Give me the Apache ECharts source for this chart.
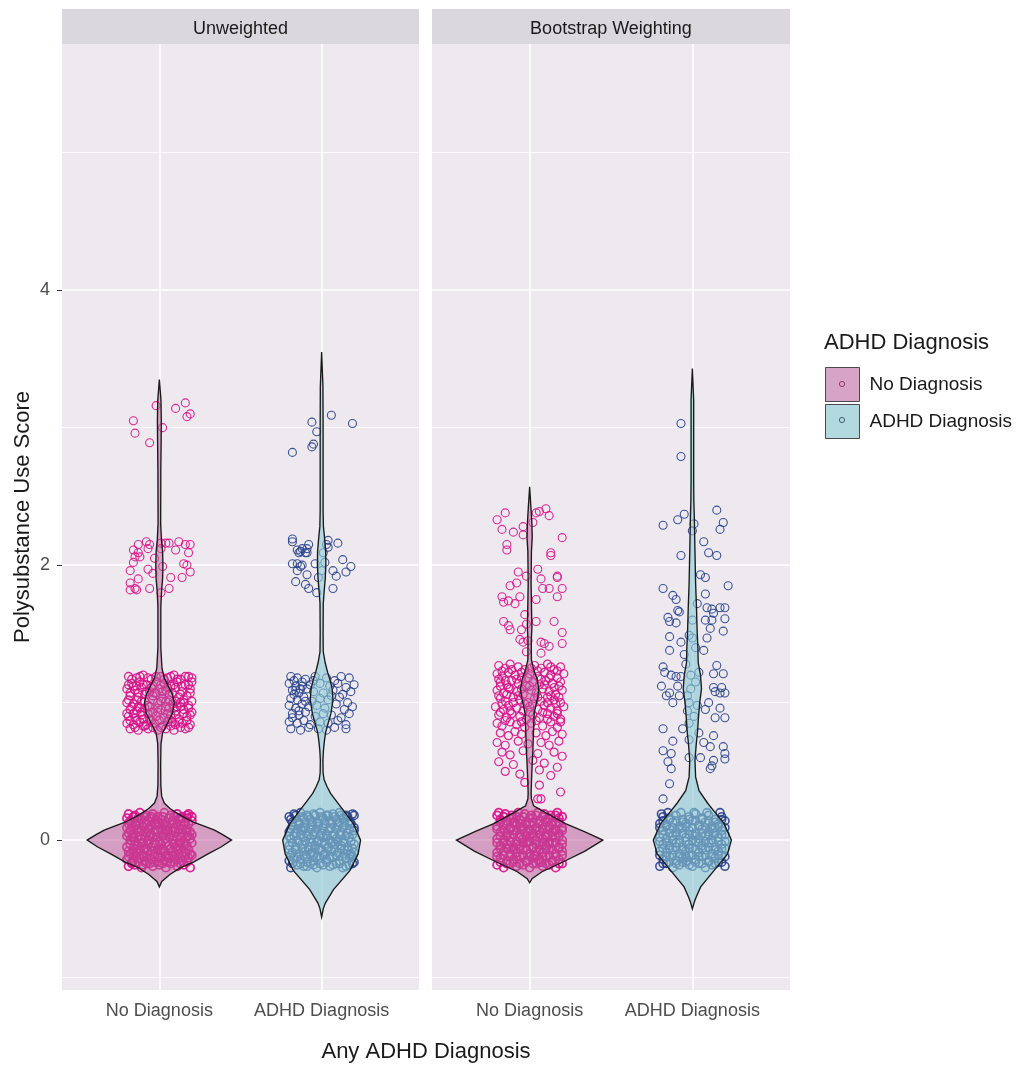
<!DOCTYPE html>
<html><head><meta charset="utf-8">
<script src="https://cdn.jsdelivr.net/npm/echarts@6/dist/echarts.min.js"></script>
<style>html,body{margin:0;padding:0;background:#fff}#c{width:1019px;height:1065px}</style>
</head><body><div id="c"></div>
<script>
const CATS = ['No Diagnosis', 'ADHD Diagnosis'];
const PANELS = ['Unweighted', 'Bootstrap Weighting'];
const Y_MAJOR = [0, 2, 4];
const Y_MINOR = [-1, 1, 3, 5];
const X_POS = [1, 2];

// ---------- Unweighted, No Diagnosis points ----------
const uwNoHi = [[0.98,3.16],[1.10,3.14],[1.16,3.18],[1.17,3.08],[1.19,3.10],[0.84,3.05],[1.02,3.00],[0.85,2.96],[0.94,2.89]];
const uwNoTwo = [[0.92,2.17],[0.87,2.15],[0.94,2.15],[1.01,2.16],[1.04,2.16],[1.06,2.16],[1.12,2.17],[1.16,2.15],[1.19,2.15],[0.84,2.11],[0.87,2.09],[0.93,2.12],[1.01,2.12],[1.10,2.11],[1.18,2.09],[0.85,2.06],[0.88,2.06],[0.97,2.05],[0.84,2.02],[1.15,2.01],[1.17,2.00],[1.02,1.99],[0.82,1.96],[0.93,1.97],[1.07,1.91],[1.14,1.91],[1.19,1.95],[0.87,1.90],[0.96,1.94],[0.82,1.87],[0.82,1.82],[0.86,1.82],[0.94,1.83],[1.01,1.80],[1.06,1.83],[0.85,1.83]];
const uwNoOne = [[0.81,1.19],[0.86,1.18],[0.90,1.20],[0.95,1.17],[1.01,1.19],[1.05,1.18],[1.09,1.20],[1.13,1.17],[1.18,1.19],
[0.83,1.14],[0.88,1.15],[0.92,1.13],[0.98,1.15],[1.03,1.14],[1.07,1.12],[1.11,1.15],[1.16,1.13],[1.20,1.15],
[0.80,1.10],[0.85,1.09],[0.89,1.11],[0.94,1.08],[1.00,1.10],[1.04,1.09],[1.10,1.11],[1.14,1.08],[1.19,1.10],
[0.82,1.05],[0.87,1.04],[0.91,1.06],[0.96,1.05],[1.02,1.03],[1.06,1.06],[1.12,1.04],[1.17,1.05],
[0.80,1.00],[0.84,0.99],[0.89,1.01],[0.93,0.98],[0.99,1.00],[1.04,1.01],[1.08,0.99],[1.13,1.00],[1.18,0.98],
[0.82,0.95],[0.86,0.94],[0.91,0.96],[0.96,0.93],[1.01,0.95],[1.06,0.96],[1.10,0.94],[1.15,0.95],[1.20,0.93],
[0.81,0.90],[0.85,0.89],[0.89,0.91],[0.94,0.88],[0.98,0.90],[1.03,0.89],[1.07,0.91],[1.12,0.88],[1.17,0.90],
[0.80,0.85],[0.84,0.84],[0.88,0.86],[0.92,0.84],[0.97,0.85],[1.02,0.83],[1.05,0.86],[1.10,0.84],[1.14,0.85],[1.19,0.84],
[0.82,0.81],[0.87,0.80],[0.93,0.81],[0.99,0.80],[1.04,0.81],[1.09,0.80],[1.16,0.81],
[0.84,1.12],[0.97,1.07],[1.15,1.02],[0.87,0.97],[1.08,0.86],[0.95,1.11],[1.11,0.97],[0.90,0.83]];
const uwNoOneB = [[0.83,1.17],[0.88,1.19],[0.93,1.18],[0.98,1.19],[1.03,1.17],[1.07,1.19],[1.11,1.17],[1.16,1.19],[1.20,1.18],
[0.81,1.13],[0.86,1.12],[0.90,1.13],[0.96,1.12],[1.01,1.13],[1.05,1.11],[1.09,1.13],[1.14,1.12],[1.18,1.13],
[0.82,1.07],[0.87,1.07],[0.92,1.08],[0.98,1.07],[1.02,1.08],[1.08,1.07],[1.13,1.06],[1.19,1.07],
[0.81,1.02],[0.86,1.02],[0.91,1.01],[0.96,1.02],[1.01,1.01],[1.06,1.02],[1.10,1.01],[1.15,1.00],[1.20,1.01],
[0.83,0.97],[0.88,0.96],[0.94,0.97],[0.99,0.96],[1.04,0.97],[1.09,0.96],[1.13,0.97],[1.18,0.96],
[0.80,0.92],[0.84,0.92],[0.89,0.93],[0.93,0.92],[0.99,0.93],[1.05,0.92],[1.10,0.91],[1.15,0.92],[1.19,0.91],
[0.82,0.87],[0.86,0.87],[0.90,0.88],[0.95,0.87],[1.00,0.87],[1.06,0.88],[1.12,0.86],[1.17,0.87],
[0.85,0.82],[0.91,0.83],[0.96,0.82],[1.01,0.82],[1.07,0.83],[1.13,0.82],[1.18,0.82]];
const uwNoZero = [[0.81,-0.19],[0.85,-0.18],[0.89,-0.20],[0.92,-0.17],[0.96,-0.19],[1.00,-0.18],[1.04,-0.20],[1.07,-0.17],[1.11,-0.19],[1.15,-0.18],[1.19,-0.20],
[0.80,-0.14],[0.84,-0.15],[0.88,-0.13],[0.91,-0.15],[0.95,-0.14],[0.99,-0.12],[1.03,-0.15],[1.06,-0.13],[1.10,-0.14],[1.14,-0.15],[1.18,-0.13],
[0.82,-0.10],[0.86,-0.09],[0.89,-0.11],[0.93,-0.08],[0.97,-0.10],[1.01,-0.09],[1.05,-0.11],[1.08,-0.08],[1.12,-0.10],[1.16,-0.09],[1.20,-0.11],
[0.80,-0.05],[0.84,-0.06],[0.87,-0.04],[0.91,-0.06],[0.95,-0.05],[0.98,-0.03],[1.02,-0.06],[1.06,-0.04],[1.10,-0.05],[1.13,-0.06],[1.17,-0.04],
[0.82,0.00],[0.85,-0.01],[0.89,0.01],[0.93,0.00],[0.96,0.02],[1.00,-0.01],[1.04,0.01],[1.08,0.00],[1.11,0.02],[1.15,-0.01],[1.19,0.01],
[0.81,0.05],[0.84,0.04],[0.88,0.06],[0.92,0.05],[0.95,0.04],[0.99,0.06],[1.03,0.05],[1.07,0.04],[1.10,0.06],[1.14,0.05],[1.18,0.03],
[0.80,0.09],[0.83,0.10],[0.87,0.08],[0.90,0.10],[0.94,0.09],[0.98,0.11],[1.02,0.08],[1.05,0.10],[1.09,0.09],[1.13,0.11],[1.17,0.08],
[0.82,0.14],[0.86,0.13],[0.89,0.15],[0.93,0.14],[0.97,0.12],[1.01,0.15],[1.04,0.13],[1.08,0.14],[1.12,0.15],[1.16,0.13],[1.20,0.14],
[0.81,0.19],[0.85,0.18],[0.88,0.20],[0.92,0.18],[0.96,0.19],[0.99,0.17],[1.03,0.20],[1.07,0.18],[1.11,0.19],[1.14,0.17],[1.18,0.19],
[0.83,-0.16],[0.97,-0.16],[1.09,-0.12],[0.90,-0.02],[1.05,0.07],[0.94,0.16],[1.12,-0.02],[0.86,0.11],[1.01,-0.07],[1.17,0.16],[0.83,0.02],[1.00,0.12],[0.92,-0.12],[1.14,0.08],[0.87,-0.08]];
const uwNoZeroB = [[0.83,-0.17],[0.87,-0.16],[0.94,-0.17],[0.99,-0.16],[1.02,-0.17],[1.05,-0.16],[1.13,-0.17],[1.17,-0.16],[0.90,-0.18],[1.09,-0.16],
[0.81,-0.12],[0.86,-0.12],[0.90,-0.11],[0.97,-0.12],[1.00,-0.13],[1.04,-0.12],[1.08,-0.11],[1.12,-0.13],[1.16,-0.12],[1.19,-0.10],
[0.81,-0.08],[0.84,-0.09],[0.88,-0.07],[0.92,-0.06],[0.95,-0.08],[0.99,-0.07],[1.03,-0.08],[1.07,-0.06],[1.11,-0.07],[1.14,-0.09],[1.18,-0.07],
[0.82,-0.03],[0.86,-0.04],[0.89,-0.02],[0.93,-0.03],[0.97,-0.02],[1.01,-0.03],[1.04,-0.02],[1.09,-0.03],[1.13,-0.02],[1.16,-0.03],[1.20,-0.02],
[0.80,0.03],[0.84,0.02],[0.87,0.03],[0.91,0.02],[0.94,0.03],[0.98,0.02],[1.02,0.03],[1.06,0.02],[1.09,0.03],[1.13,0.02],[1.17,0.03],[1.20,0.04],
[0.82,0.07],[0.86,0.08],[0.89,0.07],[0.93,0.08],[0.97,0.07],[1.01,0.07],[1.04,0.08],[1.08,0.07],[1.12,0.08],[1.16,0.07],[1.19,0.06],
[0.81,0.12],[0.85,0.11],[0.88,0.12],[0.92,0.12],[0.95,0.11],[0.99,0.13],[1.03,0.11],[1.07,0.12],[1.11,0.12],[1.15,0.11],[1.18,0.12],
[0.80,0.16],[0.84,0.17],[0.87,0.16],[0.91,0.17],[0.95,0.17],[0.98,0.15],[1.02,0.17],[1.06,0.16],[1.09,0.17],[1.13,0.16],[1.17,0.18],[1.20,0.17]];

// ---------- Unweighted, ADHD Diagnosis points ----------
const uwAdHi = [[2.06,3.09],[1.94,3.04],[2.19,3.03],[1.97,2.97],[1.95,2.88],[1.94,2.86],[1.82,2.82]];
const uwAdTwo = [[1.82,2.19],[1.82,2.17],[1.87,2.10],[1.85,2.11],[1.88,2.12],[1.91,2.12],[1.92,2.15],[1.90,2.09],[1.86,2.09],[1.91,2.09],[2.04,2.18],[2.10,2.16],[2.03,2.15],[2.04,2.13],[1.82,2.01],[1.85,2.01],[1.87,1.99],[1.88,2.00],[1.96,2.01],[2.13,2.04],[2.18,1.99],[2.07,1.96],[2.15,1.95],[2.09,1.92],[1.85,1.96],[1.91,1.93],[1.84,1.88],[1.90,1.86],[1.92,1.83],[1.97,1.80],[1.98,1.91],[2.07,1.83],[2.01,2.09],[2.02,2.02],[2.00,1.96]];
const uwAdOne = [[1.81,1.19],[1.85,1.18],[1.90,1.17],[1.96,1.19],[2.03,1.18],[2.08,1.16],[2.12,1.19],[2.17,1.18],
[1.80,1.14],[1.84,1.12],[1.88,1.15],[1.93,1.13],[1.99,1.14],[2.05,1.12],[2.10,1.14],[2.15,1.11],[2.20,1.13],
[1.82,1.09],[1.86,1.07],[1.91,1.10],[1.95,1.08],[2.01,1.07],[2.07,1.09],[2.13,1.06],[2.18,1.08],
[1.81,1.03],[1.85,1.02],[1.89,1.04],[1.94,1.01],[1.99,1.03],[2.04,1.02],[2.11,1.04],[2.16,1.00],
[1.80,0.98],[1.84,0.96],[1.88,0.99],[1.92,0.97],[1.97,0.98],[2.02,0.96],[2.09,0.99],[2.14,0.95],[2.19,0.97],
[1.82,0.92],[1.86,0.91],[1.90,0.93],[1.96,0.90],[2.01,0.92],[2.06,0.91],[2.12,0.89],[2.17,0.92],
[1.80,0.86],[1.85,0.85],[1.89,0.87],[1.93,0.84],[1.99,0.86],[2.04,0.85],[2.10,0.87],[2.15,0.84],
[1.81,0.81],[1.87,0.80],[1.92,0.82],[1.98,0.81],[2.03,0.80],[2.08,0.82],[2.15,0.81],
[1.83,1.16],[1.87,1.10],[1.83,1.06],[1.90,1.01],[1.86,0.94],[1.84,1.09],[1.88,1.12],[1.82,0.89],[1.95,1.16],[2.06,1.05]];
const uwAdZero = [[1.81,-0.20],[1.85,-0.18],[1.89,-0.19],[1.93,-0.17],[1.97,-0.20],[2.01,-0.18],[2.05,-0.19],[2.09,-0.17],[2.13,-0.20],[2.17,-0.18],[2.20,-0.16],
[1.80,-0.15],[1.83,-0.13],[1.87,-0.14],[1.91,-0.12],[1.95,-0.15],[1.99,-0.13],[2.03,-0.14],[2.07,-0.12],[2.11,-0.15],[2.15,-0.13],[2.19,-0.12],
[1.82,-0.09],[1.86,-0.10],[1.90,-0.08],[1.94,-0.09],[1.98,-0.07],[2.02,-0.10],[2.06,-0.08],[2.10,-0.09],[2.14,-0.07],[2.18,-0.10],
[1.80,-0.04],[1.84,-0.05],[1.88,-0.03],[1.92,-0.05],[1.96,-0.04],[2.00,-0.02],[2.04,-0.05],[2.08,-0.03],[2.12,-0.04],[2.16,-0.05],[2.20,-0.03],
[1.81,0.01],[1.85,0.00],[1.89,0.02],[1.93,0.01],[1.97,-0.01],[2.01,0.02],[2.05,0.00],[2.09,0.01],[2.13,-0.01],[2.17,0.02],
[1.80,0.06],[1.84,0.05],[1.88,0.07],[1.92,0.04],[1.96,0.06],[2.00,0.05],[2.04,0.07],[2.08,0.04],[2.12,0.06],[2.16,0.05],[2.20,0.07],
[1.82,0.10],[1.86,0.11],[1.90,0.09],[1.94,0.11],[1.98,0.10],[2.02,0.12],[2.06,0.09],[2.10,0.11],[2.14,0.10],[2.18,0.12],
[1.81,0.15],[1.85,0.14],[1.89,0.16],[1.93,0.15],[1.97,0.13],[2.01,0.16],[2.05,0.14],[2.09,0.15],[2.13,0.16],[2.17,0.14],
[1.83,0.19],[1.87,0.20],[1.91,0.18],[1.95,0.19],[1.99,0.20],[2.03,0.18],[2.07,0.19],[2.11,0.20],[2.15,0.18],[2.19,0.19],
[1.95,-0.11],[2.07,-0.01],[1.87,0.08],[2.03,0.03],[1.99,-0.06],[2.11,0.13],[1.91,-0.16],[2.15,-0.10]];
const uwAdZeroB = [[1.82,-0.17],[1.87,-0.17],[1.91,-0.19],[1.95,-0.18],[1.99,-0.17],[2.03,-0.16],[2.07,-0.18],[2.11,-0.17],[2.15,-0.19],[2.19,-0.17],
[1.81,-0.11],[1.85,-0.12],[1.89,-0.11],[1.93,-0.10],[1.97,-0.12],[2.01,-0.11],[2.05,-0.12],[2.09,-0.11],[2.13,-0.12],[2.17,-0.11],[2.20,-0.09],
[1.80,-0.07],[1.84,-0.07],[1.88,-0.06],[1.92,-0.07],[1.96,-0.06],[2.00,-0.07],[2.04,-0.06],[2.08,-0.07],[2.12,-0.06],[2.16,-0.07],[2.19,-0.06],
[1.82,-0.02],[1.86,-0.02],[1.90,-0.01],[1.94,-0.02],[1.98,-0.01],[2.02,-0.03],[2.06,-0.02],[2.10,-0.01],[2.14,-0.02],[2.18,-0.01],
[1.80,0.03],[1.83,0.03],[1.87,0.04],[1.91,0.03],[1.95,0.04],[1.99,0.03],[2.03,0.04],[2.07,0.03],[2.11,0.04],[2.15,0.03],[2.19,0.04],
[1.81,0.08],[1.85,0.08],[1.89,0.09],[1.93,0.08],[1.97,0.08],[2.01,0.09],[2.05,0.08],[2.09,0.08],[2.13,0.09],[2.17,0.08],[2.20,0.09],
[1.82,0.13],[1.86,0.12],[1.90,0.13],[1.94,0.13],[1.98,0.12],[2.02,0.14],[2.06,0.12],[2.10,0.13],[2.14,0.13],[2.18,0.12],
[1.80,0.17],[1.84,0.18],[1.88,0.17],[1.92,0.17],[1.96,0.18],[2.00,0.17],[2.04,0.18],[2.08,0.17],[2.12,0.18],[2.16,0.17],[2.20,0.18]];

// ---------- Bootstrap, No Diagnosis points ----------
const bsNoHi = [[0.80,2.33],[0.85,2.38],[1.04,2.38],[1.06,2.39],[1.10,2.41],[1.12,2.36],[0.83,2.26],[0.90,2.24],[0.96,2.22],[0.96,2.28],[1.02,2.31],[1.20,2.20],[0.86,2.15],[0.86,2.11],[1.13,2.09],[1.13,2.07],[0.93,1.95],[0.98,1.92],[1.05,1.97],[1.07,1.90],[1.17,1.92],[1.17,1.91],[0.92,1.87],[0.88,1.85],[0.83,1.77],[0.84,1.73],[0.87,1.74],[0.91,1.72],[0.94,1.77],[1.04,1.75],[1.08,1.83],[1.12,1.83],[1.20,1.83],[1.17,1.77],[0.97,1.64],[0.84,1.59],[0.87,1.56],[0.88,1.53],[0.95,1.53],[0.98,1.57],[1.04,1.59],[1.15,1.59],[1.20,1.51],[1.20,1.43],[0.94,1.46],[0.96,1.44],[0.99,1.45],[1.07,1.44],[1.09,1.43],[1.12,1.41],[0.98,1.37],[1.07,1.36]];
const bsNoMid = [[0.81,1.27],[0.85,1.25],[0.88,1.28],[0.93,1.26],[0.97,1.24],[1.03,1.27],[1.07,1.25],[1.11,1.28],[1.15,1.24],[1.19,1.26],
[0.80,1.21],[0.83,1.19],[0.87,1.22],[0.91,1.20],[0.95,1.18],[1.00,1.21],[1.05,1.19],[1.09,1.22],[1.13,1.20],[1.17,1.18],[1.21,1.21],
[0.82,1.15],[0.86,1.13],[0.89,1.16],[0.93,1.14],[0.98,1.12],[1.02,1.15],[1.06,1.13],[1.10,1.16],[1.14,1.14],[1.18,1.12],
[0.80,1.09],[0.84,1.07],[0.88,1.10],[0.92,1.08],[0.96,1.06],[1.01,1.09],[1.04,1.07],[1.08,1.10],[1.12,1.08],[1.16,1.06],[1.20,1.09],
[0.82,1.03],[0.85,1.01],[0.90,1.04],[0.94,1.02],[0.99,1.00],[1.03,1.03],[1.07,1.01],[1.11,1.04],[1.15,1.02],[1.19,1.00],
[0.79,0.97],[0.84,0.95],[0.87,0.98],[0.92,0.96],[0.96,0.94],[1.00,0.97],[1.05,0.95],[1.09,0.98],[1.13,0.96],[1.17,0.94],[1.21,0.97],
[0.81,0.91],[0.86,0.89],[0.89,0.92],[0.94,0.90],[0.98,0.88],[1.02,0.91],[1.06,0.89],[1.11,0.92],[1.15,0.90],[1.19,0.88],
[0.80,0.85],[0.83,0.83],[0.88,0.86],[0.92,0.84],[0.97,0.82],[1.01,0.85],[1.08,0.83],[1.13,0.86],[1.17,0.82],
[0.82,0.78],[0.87,0.76],[0.91,0.79],[0.95,0.77],[1.04,0.78],[1.10,0.76],[1.14,0.79],[1.20,0.77],
[0.80,0.71],[0.85,0.69],[0.93,0.72],[0.99,0.70],[1.07,0.71],[1.12,0.69],[1.18,0.72],
[0.83,0.64],[0.88,0.62],[0.96,0.65],[1.05,0.63],[1.15,0.64],[1.20,0.61],
[0.81,0.57],[0.90,0.55],[1.02,0.58],[1.09,0.56],[1.17,0.53],
[0.85,0.50],[0.94,0.48],[1.06,0.51],[1.13,0.47],
[0.97,0.42],[1.06,0.40],[1.19,0.35],[1.05,0.30],[1.07,0.30],
[0.83,1.23],[0.89,1.24],[0.95,1.22],[1.01,1.25],[1.05,1.23],[1.13,1.26],[1.17,1.23],[0.81,1.17],[0.85,1.16],[0.92,1.17],[0.99,1.18],[1.07,1.17],[1.12,1.18],[1.19,1.15],[0.82,1.12],[0.87,1.11],[0.95,1.10],[1.00,1.12],[1.09,1.13],[1.15,1.11],[0.81,1.05],[0.86,1.06],[0.93,1.05],[1.05,1.04],[1.13,1.05],[1.18,1.04],[0.83,0.99],[0.90,1.00],[0.97,0.99],[1.02,0.99],[1.11,1.00],[1.16,0.99],[0.82,0.93],[0.88,0.94],[1.00,0.93],[1.08,0.93],[1.17,0.92],[0.85,0.87],[0.95,0.86],[1.04,0.87],[1.11,0.88],[1.19,0.86]];
const bsNoZero = [[0.80,-0.18],[0.84,-0.20],[0.88,-0.17],[0.92,-0.19],[0.96,-0.18],[1.00,-0.20],[1.04,-0.17],[1.08,-0.19],[1.12,-0.18],[1.16,-0.20],[1.20,-0.17],
[0.82,-0.13],[0.86,-0.15],[0.90,-0.14],[0.94,-0.12],[0.98,-0.15],[1.02,-0.13],[1.06,-0.14],[1.10,-0.12],[1.14,-0.15],[1.18,-0.14],
[0.80,-0.09],[0.84,-0.08],[0.88,-0.10],[0.92,-0.09],[0.96,-0.07],[1.00,-0.10],[1.04,-0.08],[1.08,-0.09],[1.12,-0.07],[1.16,-0.10],[1.20,-0.08],
[0.82,-0.04],[0.86,-0.03],[0.90,-0.05],[0.94,-0.04],[0.98,-0.02],[1.02,-0.05],[1.06,-0.03],[1.10,-0.04],[1.14,-0.02],[1.18,-0.05],
[0.80,0.01],[0.84,0.00],[0.88,0.02],[0.92,-0.01],[0.96,0.01],[1.00,0.02],[1.04,0.00],[1.08,0.01],[1.12,-0.01],[1.16,0.02],[1.20,0.00],
[0.82,0.06],[0.86,0.05],[0.90,0.07],[0.94,0.04],[0.98,0.06],[1.02,0.05],[1.06,0.07],[1.10,0.04],[1.14,0.06],[1.18,0.05],
[0.80,0.10],[0.84,0.11],[0.88,0.09],[0.92,0.11],[0.96,0.10],[1.00,0.12],[1.04,0.09],[1.08,0.11],[1.12,0.10],[1.16,0.12],[1.20,0.09],
[0.82,0.15],[0.86,0.14],[0.90,0.16],[0.94,0.15],[0.98,0.13],[1.02,0.16],[1.06,0.14],[1.10,0.15],[1.14,0.13],[1.18,0.16],
[0.81,0.20],[0.85,0.19],[0.89,0.18],[0.93,0.20],[0.97,0.19],[1.01,0.18],[1.05,0.20],[1.09,0.19],[1.13,0.18],[1.17,0.20],
[0.87,-0.06],[1.03,-0.11],[0.95,0.08],[1.11,0.03],[0.91,0.13],[1.07,-0.16],[0.99,-0.01],[1.15,0.08]];
const bsNoZeroB = [[0.82,-0.16],[0.86,-0.17],[0.90,-0.16],[0.94,-0.17],[0.98,-0.16],[1.02,-0.17],[1.06,-0.16],[1.10,-0.17],[1.14,-0.16],[1.18,-0.17],
[0.80,-0.12],[0.84,-0.11],[0.88,-0.12],[0.92,-0.12],[0.96,-0.11],[1.00,-0.12],[1.04,-0.11],[1.08,-0.12],[1.12,-0.11],[1.16,-0.12],[1.20,-0.11],
[0.82,-0.06],[0.86,-0.06],[0.90,-0.07],[0.94,-0.06],[0.98,-0.07],[1.02,-0.06],[1.06,-0.07],[1.10,-0.06],[1.14,-0.07],[1.18,-0.06],
[0.80,-0.02],[0.84,-0.02],[0.88,-0.01],[0.92,-0.03],[0.96,-0.02],[1.00,-0.01],[1.04,-0.03],[1.08,-0.02],[1.12,-0.03],[1.16,-0.02],[1.20,-0.03],
[0.82,0.03],[0.86,0.03],[0.90,0.04],[0.94,0.02],[0.98,0.03],[1.02,0.03],[1.06,0.04],[1.10,0.02],[1.14,0.03],[1.18,0.03],
[0.80,0.08],[0.84,0.07],[0.88,0.08],[0.92,0.07],[0.96,0.08],[1.00,0.07],[1.04,0.07],[1.08,0.08],[1.12,0.08],[1.16,0.07],[1.20,0.07],
[0.82,0.13],[0.86,0.12],[0.90,0.13],[0.94,0.12],[0.98,0.11],[1.02,0.13],[1.06,0.12],[1.10,0.13],[1.14,0.11],[1.18,0.13],
[0.80,0.18],[0.84,0.17],[0.88,0.16],[0.92,0.17],[0.96,0.17],[1.00,0.16],[1.04,0.18],[1.08,0.17],[1.12,0.16],[1.16,0.18],[1.20,0.17]];

// ---------- Bootstrap, ADHD Diagnosis points ----------
const bsAdHi = [[1.93,3.03],[1.93,2.79],[2.15,2.40],[2.19,2.31],[2.17,2.26],[1.95,2.37],[1.91,2.33],[1.82,2.29],[2.01,2.30],[2.00,2.25],[2.07,2.17],[2.10,2.09],[2.15,2.07],[1.93,2.07],[2.05,1.93],[2.08,1.91],[2.22,1.85],[1.82,1.83],[1.88,1.78],[1.90,1.75],[2.08,1.79],[2.03,1.72],[1.91,1.67],[1.92,1.66],[2.09,1.69],[2.12,1.68],[2.17,1.69],[2.20,1.69],[2.20,1.61],[1.85,1.62],[1.86,1.59],[1.90,1.58],[2.13,1.65],[2.12,1.60],[2.08,1.60],[2.11,1.54],[2.19,1.52],[1.86,1.48],[1.93,1.44],[1.98,1.49],[2.00,1.47],[2.09,1.47],[1.86,1.38],[1.95,1.35],[2.07,1.38]];
const bsAdMid = [[1.82,1.26],[1.83,1.22],[1.87,1.20],[1.90,1.19],[1.93,1.19],[1.81,1.12],[1.84,1.05],[1.88,1.00],[1.86,1.07],[1.91,1.12],[1.92,1.05],[1.98,1.00],[2.13,1.21],[2.15,1.27],[2.19,1.21],[2.18,1.11],[2.20,1.07],[2.13,1.11],[2.14,1.08],[2.17,1.07],[2.10,1.00],[2.08,0.95],[2.17,0.96],[2.20,0.89],[2.14,0.89],[1.82,0.81],[1.94,0.81],[1.88,0.72],[1.98,0.73],[2.04,0.78],[2.07,0.71],[2.13,0.76],[2.19,0.68],[2.20,0.63],[2.11,0.68],[1.82,0.65],[1.87,0.63],[1.85,0.57],[1.87,0.52],[1.98,0.60],[2.05,0.60],[2.13,0.58],[2.20,0.59],[2.12,0.54],[2.11,0.52],[1.86,0.41],[1.82,0.30],
[1.99,1.10],[2.02,1.15],[1.97,1.05],[2.03,0.98],[1.99,1.20],[2.01,0.90],[1.96,1.28],[2.04,1.22],[1.98,0.85],[2.02,1.40],[2.00,1.60],[1.97,0.94]];
const bsAdZero = [[1.80,-0.19],[1.84,-0.17],[1.88,-0.20],[1.92,-0.18],[1.96,-0.16],[2.00,-0.19],[2.04,-0.17],[2.08,-0.20],[2.12,-0.18],[2.16,-0.16],[2.20,-0.19],
[1.82,-0.14],[1.86,-0.12],[1.90,-0.15],[1.94,-0.13],[1.98,-0.11],[2.02,-0.14],[2.06,-0.12],[2.10,-0.15],[2.14,-0.13],[2.18,-0.11],
[1.80,-0.08],[1.84,-0.09],[1.88,-0.07],[1.92,-0.10],[1.96,-0.08],[2.00,-0.06],[2.04,-0.09],[2.08,-0.07],[2.12,-0.10],[2.16,-0.08],[2.20,-0.06],
[1.82,-0.03],[1.86,-0.04],[1.90,-0.02],[1.94,-0.05],[1.98,-0.03],[2.02,-0.01],[2.06,-0.04],[2.10,-0.02],[2.14,-0.05],[2.18,-0.03],
[1.80,0.02],[1.84,0.01],[1.88,0.03],[1.92,0.00],[1.96,0.02],[2.00,0.04],[2.04,0.01],[2.08,0.03],[2.12,0.00],[2.16,0.02],[2.20,0.04],
[1.82,0.07],[1.86,0.08],[1.90,0.06],[1.94,0.09],[1.98,0.07],[2.02,0.05],[2.06,0.08],[2.10,0.06],[2.14,0.09],[2.18,0.07],
[1.80,0.12],[1.84,0.11],[1.88,0.13],[1.92,0.10],[1.96,0.12],[2.00,0.14],[2.04,0.11],[2.08,0.13],[2.12,0.10],[2.16,0.12],[2.20,0.14],
[1.82,0.17],[1.86,0.16],[1.90,0.18],[1.94,0.15],[1.98,0.17],[2.02,0.19],[2.06,0.16],[2.10,0.18],[2.14,0.15],[2.18,0.17],
[1.85,0.20],[1.93,0.20],[2.01,0.20],[2.09,0.20],[2.17,0.20],[1.81,0.19],[1.97,-0.15],[2.13,0.05]];
const bsAdZeroB = [[1.82,-0.17],[1.86,-0.16],[1.90,-0.17],[1.94,-0.16],[1.98,-0.18],[2.02,-0.16],[2.06,-0.17],[2.10,-0.16],[2.14,-0.17],[2.18,-0.16],
[1.80,-0.11],[1.84,-0.12],[1.88,-0.11],[1.92,-0.12],[1.96,-0.12],[2.00,-0.11],[2.04,-0.12],[2.08,-0.11],[2.12,-0.12],[2.16,-0.11],[2.20,-0.12],
[1.82,-0.06],[1.86,-0.06],[1.90,-0.05],[1.94,-0.07],[1.98,-0.06],[2.02,-0.07],[2.06,-0.06],[2.10,-0.05],[2.14,-0.07],[2.18,-0.06],
[1.80,-0.01],[1.84,-0.02],[1.88,0.00],[1.92,-0.02],[1.96,-0.01],[2.00,0.00],[2.04,-0.02],[2.08,-0.01],[2.12,-0.02],[2.16,-0.01],[2.20,-0.01],
[1.82,0.04],[1.86,0.05],[1.90,0.04],[1.94,0.05],[1.98,0.04],[2.02,0.03],[2.06,0.05],[2.10,0.04],[2.14,0.05],[2.18,0.04],
[1.80,0.09],[1.84,0.10],[1.88,0.09],[1.92,0.08],[1.96,0.10],[2.00,0.09],[2.04,0.10],[2.08,0.09],[2.12,0.08],[2.16,0.10],[2.20,0.09],
[1.82,0.14],[1.86,0.15],[1.90,0.14],[1.94,0.13],[1.98,0.15],[2.02,0.14],[2.06,0.15],[2.10,0.14],[2.14,0.13],[2.18,0.15]];

// ---------- Violin outlines: [y, half-width in x units] ----------
const vioUwNo = [[-0.34,0],[-0.30,0.015],[-0.25,0.065],[-0.20,0.13],[-0.16,0.21],[-0.10,0.30],[-0.05,0.38],[0,0.445],[0.04,0.39],[0.073,0.34],[0.10,0.28],[0.13,0.21],[0.18,0.13],[0.23,0.065],[0.27,0.03],[0.32,0.014],[0.40,0.009],[0.55,0.008],[0.70,0.01],[0.78,0.02],[0.85,0.05],[0.92,0.08],[1.00,0.092],[1.06,0.08],[1.12,0.055],[1.18,0.03],[1.25,0.016],[1.40,0.009],[1.70,0.009],[1.82,0.014],[1.90,0.02],[2.00,0.022],[2.10,0.02],[2.18,0.013],[2.30,0.008],[2.70,0.009],[2.90,0.011],[3.05,0.012],[3.20,0.01],[3.35,0]];
const vioUwAd = [[-0.56,0],[-0.50,0.01],[-0.46,0.022],[-0.36,0.073],[-0.22,0.175],[-0.10,0.225],[0,0.24],[0.12,0.195],[0.20,0.145],[0.28,0.093],[0.34,0.055],[0.39,0.033],[0.44,0.015],[0.49,0.009],[0.58,0.008],[0.65,0.011],[0.72,0.017],[0.78,0.024],[0.85,0.04],[0.92,0.057],[1.02,0.07],[1.10,0.065],[1.16,0.053],[1.22,0.037],[1.29,0.022],[1.37,0.01],[1.50,0.009],[1.72,0.01],[1.80,0.015],[1.90,0.022],[2.00,0.026],[2.10,0.025],[2.20,0.018],[2.28,0.011],[2.40,0.009],[3.00,0.009],[3.30,0.008],[3.55,0]];
const vioBsNo = [[-0.31,0],[-0.28,0.015],[-0.23,0.076],[-0.15,0.22],[-0.08,0.34],[0,0.45],[0.06,0.34],[0.12,0.22],[0.20,0.097],[0.25,0.025],[0.30,0.011],[0.34,0.009],[0.45,0.012],[0.56,0.016],[0.65,0.02],[0.80,0.024],[0.92,0.028],[0.98,0.038],[1.04,0.05],[1.10,0.056],[1.17,0.046],[1.24,0.025],[1.31,0.011],[1.45,0.01],[1.55,0.014],[1.65,0.012],[1.87,0.009],[2.10,0.011],[2.20,0.016],[2.30,0.014],[2.40,0.009],[2.57,0]];
const vioBsAd = [[-0.50,0],[-0.45,0.012],[-0.41,0.025],[-0.34,0.051],[-0.22,0.134],[-0.10,0.216],[0,0.24],[0.12,0.195],[0.20,0.14],[0.27,0.093],[0.36,0.041],[0.46,0.02],[0.58,0.016],[0.70,0.024],[0.78,0.031],[0.90,0.038],[1.00,0.045],[1.10,0.056],[1.20,0.05],[1.29,0.036],[1.40,0.034],[1.50,0.03],[1.70,0.025],[1.87,0.02],[2.10,0.016],[2.35,0.012],[2.47,0.009],[2.60,0.008],[3.20,0.008],[3.43,0]];

const PT_COLORS = ['#D6128A', '#27408B'];
const VIO_FILL = ['rgba(190,90,155,0.52)', 'rgba(140,200,212,0.62)'];
const KEY_FILL = ['#D7A4C7', '#B2D8E0'];
const FONT = '"Liberation Sans", Arial, sans-serif';

const grids = [
  {left: 62, top: 44, width: 357, height: 946, show: true, backgroundColor: '#EDE9EE', borderWidth: 0},
  {left: 432, top: 44, width: 358, height: 946, show: true, backgroundColor: '#EDE9EE', borderWidth: 0}
];

const xAxes = [0, 1].map(g => ({
  type: 'value', gridIndex: g, min: 0.4, max: 2.6,
  axisLine: {show: false}, splitLine: {show: false},
  axisTick: {show: true, customValues: X_POS, length: 5, lineStyle: {color: '#333', width: 1}},
  axisLabel: {customValues: X_POS, formatter: v => CATS[Math.round(v) - 1], color: '#4D4D4D', fontSize: 18, fontFamily: FONT, margin: 12}
}));
const yAxes = [0, 1].map(g => ({
  type: 'value', gridIndex: g, min: -1.09, max: 5.79,
  axisLine: {show: false}, splitLine: {show: false},
  axisTick: {show: g === 0, customValues: Y_MAJOR, length: 5, lineStyle: {color: '#333', width: 1}},
  axisLabel: {show: g === 0, customValues: Y_MAJOR, color: '#4D4D4D', fontSize: 18, fontFamily: FONT, margin: 12},
  name: g === 0 ? 'Polysubstance Use Score' : '', nameLocation: 'middle', nameGap: 28,
  nameTextStyle: {fontSize: 22, color: '#1A1A1A', fontFamily: FONT}
}));

function gridLines(g) {
  const data = [];
  Y_MAJOR.forEach(v => data.push({yAxis: v, lineStyle: {color: '#FFFFFF', width: 1.5, type: 'solid'}}));
  Y_MINOR.forEach(v => data.push({yAxis: v, lineStyle: {color: '#FFFFFF', width: 0.8, type: 'solid'}}));
  X_POS.forEach(v => data.push({xAxis: v, lineStyle: {color: '#FFFFFF', width: 1.5, type: 'solid'}}));
  return {type: 'line', xAxisIndex: g, yAxisIndex: g, data: [], silent: true, z: 1,
    markLine: {silent: true, symbol: 'none', label: {show: false}, animation: false, z: 1, data}};
}
function points(g, k, data, bw) {
  return {type: 'scatter', name: 'pts' + g + k, xAxisIndex: g, yAxisIndex: g, data, symbol: 'circle', symbolSize: 8,
    itemStyle: {color: 'rgba(0,0,0,0)', borderColor: PT_COLORS[k], borderWidth: bw, opacity: 0.9},
    silent: true, z: 2, animation: false, large: false};
}
function violin(g, k, prof) {
  const cx = X_POS[k];
  return {type: 'custom', name: CATS[k], xAxisIndex: g, yAxisIndex: g, data: [[cx, 0]], z: 3, silent: true,
    itemStyle: {color: KEY_FILL[k]},
    renderItem: (params, api) => {
      const pts = [];
      for (let i = 0; i < prof.length; i++) pts.push(api.coord([cx + prof[i][1], prof[i][0]]));
      for (let i = prof.length - 1; i >= 0; i--) pts.push(api.coord([cx - prof[i][1], prof[i][0]]));
      return {type: 'polygon', shape: {points: pts}, style: {fill: VIO_FILL[k], stroke: '#1A1A1A', lineWidth: 1.35}};
    }};
}

const series = [
  gridLines(0), gridLines(1),
  points(0, 0, [].concat(uwNoHi, uwNoTwo), 1.1),
  points(0, 0, [].concat(uwNoOne, uwNoOneB), 1.3),
  points(0, 0, [].concat(uwNoZero, uwNoZeroB), 1.8),
  points(0, 1, [].concat(uwAdHi, uwAdTwo, uwAdOne), 1.1),
  points(0, 1, [].concat(uwAdZero, uwAdZeroB), 1.6),
  points(1, 0, [].concat(bsNoHi), 1.1),
  points(1, 0, [].concat(bsNoMid), 1.2),
  points(1, 0, [].concat(bsNoZero, bsNoZeroB), 1.8),
  points(1, 1, [].concat(bsAdHi, bsAdMid), 1.1),
  points(1, 1, [].concat(bsAdZero, bsAdZeroB), 1.6),
  violin(0, 0, vioUwNo), violin(0, 1, vioUwAd),
  violin(1, 0, vioBsNo), violin(1, 1, vioBsAd)
];

const graphic = [];
grids.forEach((gd, i) => {
  graphic.push({type: 'rect', shape: {x: gd.left, y: 9, width: gd.width, height: 35}, style: {fill: '#DAD8DD'}, silent: true});
  graphic.push({type: 'text', x: gd.left + gd.width / 2, y: 29, style: {text: PANELS[i], fill: '#1A1A1A', font: '18px ' + FONT, textAlign: 'center', textVerticalAlign: 'middle'}, silent: true});
});
graphic.push({type: 'text', x: 426, y: 1052, style: {text: 'Any ADHD Diagnosis', fill: '#1A1A1A', font: '22px ' + FONT, textAlign: 'center', textVerticalAlign: 'middle'}, silent: true});
graphic.push({type: 'text', x: 824, y: 343, style: {text: 'ADHD Diagnosis', fill: '#1A1A1A', font: '22px ' + FONT, textAlign: 'left', textVerticalAlign: 'middle'}, silent: true});
[0, 1].forEach(k => {
  graphic.push({type: 'circle', shape: {cx: 842, cy: 384 + k * 36, r: 2.6}, style: {fill: 'none', stroke: k === 0 ? '#8A3A6E' : '#3F6270', lineWidth: 1}, z: 100, silent: true});
});

const option = {
  animation: false,
  backgroundColor: '#FFFFFF',
  grid: grids, xAxis: xAxes, yAxis: yAxes,
  legend: {
    orient: 'vertical', left: 825, top: 367, itemWidth: 34, itemHeight: 34, itemGap: 2, padding: 0,
    selectedMode: false,
    textStyle: {fontSize: 19, color: '#1A1A1A', fontFamily: FONT, padding: [0, 0, 0, 5]},
    data: CATS.map((c, k) => ({name: c, icon: 'rect', itemStyle: {color: KEY_FILL[k], borderColor: '#4A4A4A', borderWidth: 1}}))
  },
  graphic, series
};
const chart = echarts.init(document.getElementById('c'), null, {renderer: 'canvas'});
chart.setOption(option);
</script></body></html>
